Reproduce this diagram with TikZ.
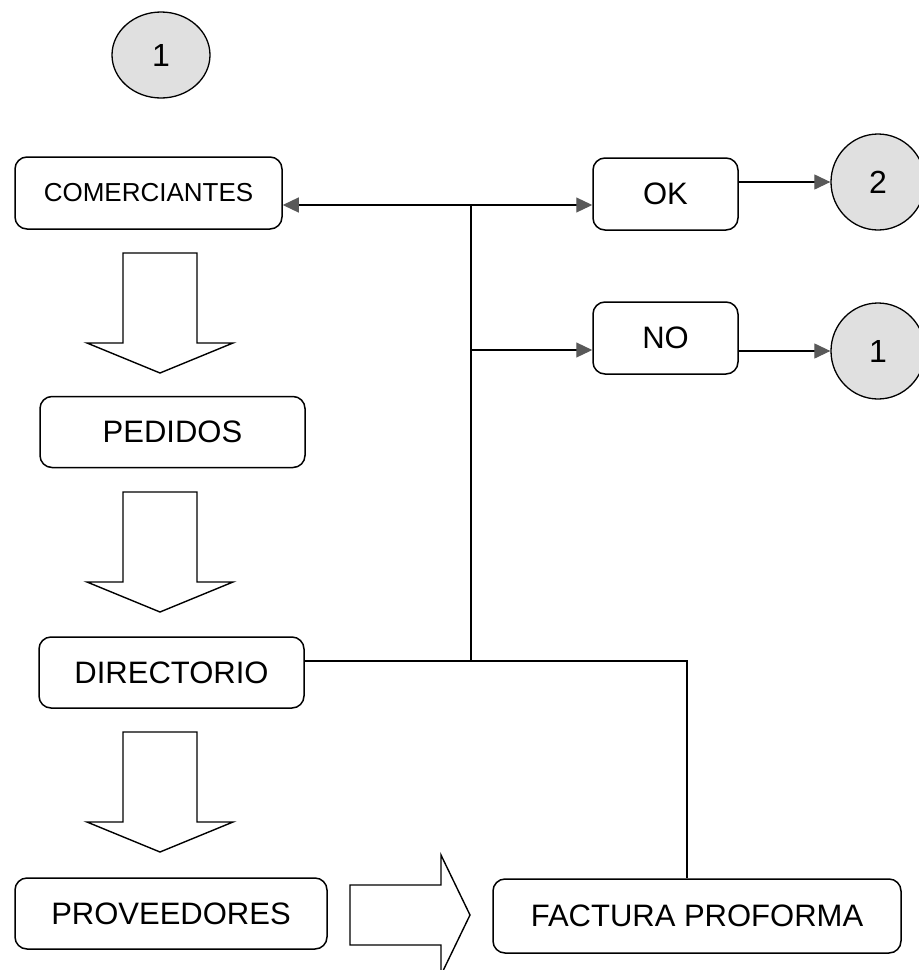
\documentclass[tikz,border=0pt]{standalone}
\usepackage{fontspec}
\setmainfont{Liberation Sans}
\usetikzlibrary{arrows.meta, positioning, shapes.geometric}

\tikzset{
  box/.style={draw, line width=1.5pt, rounded corners=12pt, inner sep=0pt,
    minimum height=71pt, font=\fontsize{31}{36}\selectfont},
  conn/.style={draw, ellipse, line width=1.3pt, fill=black!12, inner sep=0pt,
    minimum width=94pt, minimum height=96pt, font=\fontsize{32}{36}\selectfont},
  link/.style={line width=1.2pt},
  tip/.style={link, -{Triangle[length=16pt, width=15pt, color=black!65]}},
  pics/downarrow/.style={code={
    \draw[line width=1.4pt] (-37,0) -- (37,0) -- (37,90) -- (73,90) -- (0,120)
      -- (-73,90) -- (-37,90) -- cycle;}},
  pics/rightarrow/.style={code={
    \draw[line width=1.4pt] (0,-30) -- (91,-30) -- (91,-60) -- (120,0)
      -- (91,60) -- (91,30) -- (0,30) -- cycle;}}
}

\begin{document}
\begin{tikzpicture}[x=1pt, y=-1pt]
  \useasboundingbox (0,0) rectangle (919,970);

  % start connector
  \node[conn, minimum width=98pt, minimum height=86pt] (c1a) at (161,55) {1};

  % left column
  \node[box, minimum width=267pt, minimum height=72pt, font=\fontsize{26}{30}\selectfont] (com) at (148.5,193) {COMERCIANTES};
  \node[box, minimum width=265pt] (ped) at (172.5,432) {PEDIDOS};
  \node[box, minimum width=265pt] (dir) at (171.5,672.5) {DIRECTORIO};
  \node[box, minimum width=312pt] (prov) at (171,913.5) {PROVEEDORES};
  \node[box, minimum width=408pt, minimum height=74pt] (fact) at (697,916) {FACTURA PROFORMA};

  \pic at (160,253) {downarrow};
  \pic at (160,492) {downarrow};
  \pic at (160,732) {downarrow};
  \pic at (350,915) {rightarrow};

  % decision
  \node[box, minimum width=145pt, minimum height=72pt] (ok) at (665.5,194) {OK};
  \node[box, minimum width=145pt, minimum height=72pt] (no) at (665.5,338) {NO};
  \node[conn] (c2) at (878,182) {2};
  \node[conn] (c1b) at (878,351) {1};

  \coordinate (j1) at (471,205);
  \coordinate (j2) at (471,350);
  \coordinate (j3) at (471,661);
  \coordinate (k) at (687,661);

  \draw[link] (j3 -| dir.east) -- (j3) -- (j1);
  \draw[link] (j3) -- (k) -- (k |- fact.north);
  \draw[tip] (j1) -- (j1 -| com.east);
  \draw[tip] (j1) -- (j1 -| ok.west);
  \draw[tip] (j2) -- (j2 -| no.west);
  \draw[tip] (c2 -| ok.east) -- (c2.west);
  \draw[tip] (c1b -| no.east) -- (c1b.west);
\end{tikzpicture}
\end{document}
